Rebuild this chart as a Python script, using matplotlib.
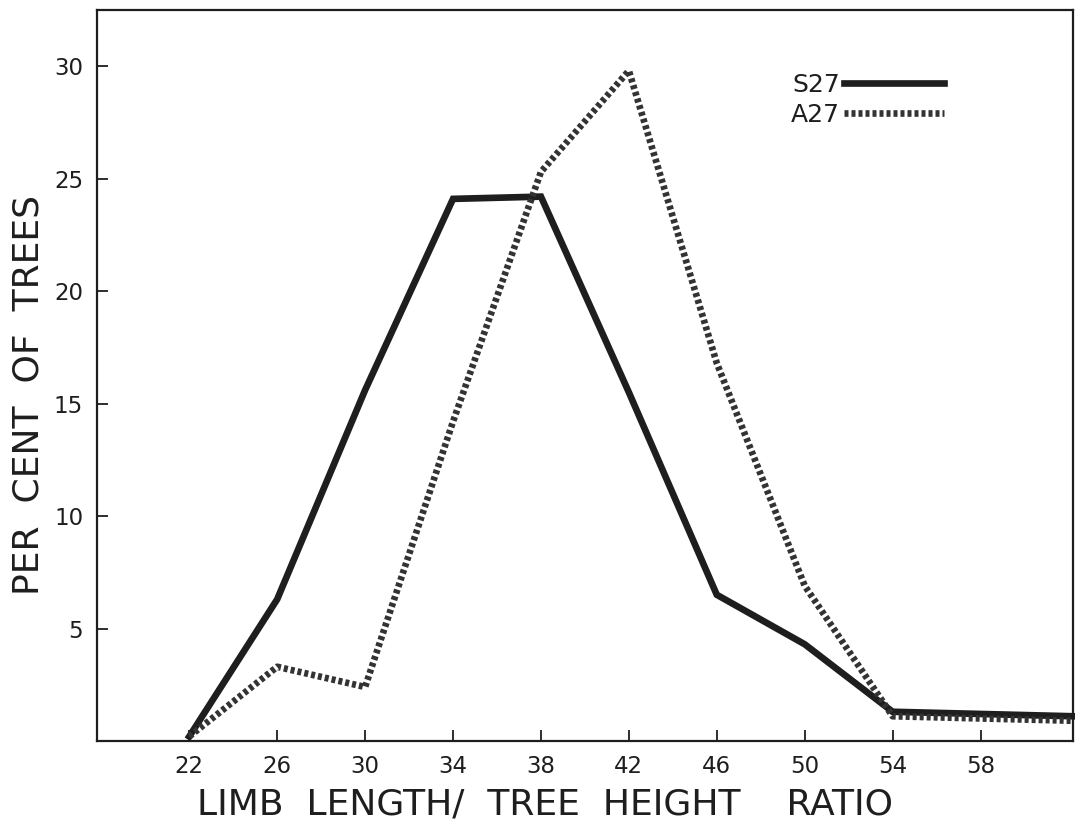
import matplotlib
matplotlib.use("Agg")
import matplotlib.pyplot as plt

# ratio classes (x) and per cent of trees for each stand
ratio = [22, 26, 30, 34, 38, 42, 46, 50, 54, 62.2]
s27 = [0.2, 6.3, 15.6, 24.1, 24.2, 15.5, 6.5, 4.3, 1.3, 1.1]
a27 = [0.2, 3.3, 2.4, 14.2, 25.3, 29.8, 16.8, 6.9, 1.1, 0.9]

x_ticks = [22, 26, 30, 34, 38, 42, 46, 50, 54, 58]
y_ticks = [5, 10, 15, 20, 25, 30]

ink = "#1e1e1e"


def show_graph():
    """Draw the two distributions and save them"""
    fig = plt.figure(figsize=(10.75, 8.27), dpi=100)
    ax = fig.add_axes([0.0902, 0.104, 0.9078, 0.884])

    ax.plot(ratio, s27, color=ink, lw=4.8, solid_joinstyle="miter",
            label="S27", clip_on=False)
    ax.plot(ratio, a27, color="#333333", lw=4.8, dashes=(0.6, 0.45),
            dash_capstyle="butt", label="A27", clip_on=False)

    ax.set_xlim(17.8, 62.2)
    ax.set_ylim(0, 32.5)
    ax.set_xticks(x_ticks)
    ax.set_yticks(y_ticks)
    ax.tick_params(direction="in", length=8, width=1.3, colors=ink,
                   labelsize=16.5, pad=10)
    for sp in ax.spines.values():
        sp.set_linewidth(1.6)
        sp.set_color(ink)

    ax.set_xlabel("LIMB  LENGTH/  TREE  HEIGHT    RATIO", fontsize=26,
                  color=ink)
    ax.xaxis.set_label_coords(0.459, -0.063)
    ax.set_ylabel("PER  CENT  OF  TREES", fontsize=26, color=ink)
    ax.yaxis.set_label_coords(-0.053, 0.473)

    leg = ax.legend(loc="upper left", bbox_to_anchor=(0.688, 0.945),
                    frameon=False, fontsize=18, handlelength=4.0,
                    handletextpad=0.15, markerfirst=False, labelspacing=0.25)
    for t in leg.get_texts():
        t.set_color(ink)

    fig.savefig("out.png", dpi=100)
    return


def main():
    """Main function of the program"""
    show_graph()
    return


if __name__ == "__main__":
    main()
